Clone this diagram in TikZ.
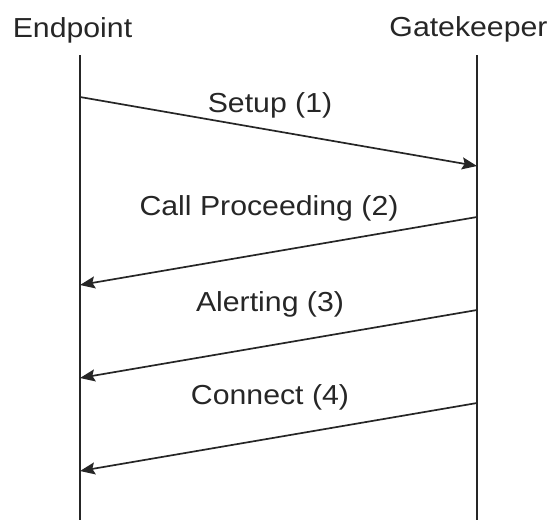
\documentclass[tikz,border=0pt]{standalone}
\usepackage{fontspec}
\setmainfont{Liberation Sans}[FakeStretch=1.1]
\usetikzlibrary{arrows.meta}
\begin{document}
\begin{tikzpicture}[x=1pt,y=-1pt,
  lifeline/.style={line width=1.7pt,draw=black!85},
  msg/.style={line width=1.7pt,draw=black!85,-{Stealth[length=15pt,width=12pt,inset=2.5pt]}},
  actor/.style={anchor=base,inner sep=0pt,text=black!85,font=\fontsize{27.5}{30}\selectfont},
  msglabel/.style={anchor=base,inner sep=0pt,text=black!85,font=\fontsize{27.5}{30}\selectfont}]
  \useasboundingbox (0,0) rectangle (553,520);
  % participants
  \node[actor] (ep) at (72.5,37) {Endpoint};
  \node[actor] (gk) at (468.5,36) {Gatekeeper};
  % lifelines
  \coordinate (epTop) at (80,55);
  \coordinate (epBot) at (80,520);
  \coordinate (gkTop) at (477,55);
  \coordinate (gkBot) at (477,520);
  \draw[lifeline] (epTop) -- (epBot);
  \draw[lifeline] (gkTop) -- (gkBot);
  % message ends on the lifelines
  \coordinate (s1a) at (80,97);   \coordinate (s1b) at (477,166);
  \coordinate (s2a) at (477,217); \coordinate (s2b) at (80,285);
  \coordinate (s3a) at (477,310); \coordinate (s3b) at (80,378);
  \coordinate (s4a) at (477,403); \coordinate (s4b) at (80,471);
  % messages
  \draw[msg] (s1a) -- (s1b);
  \draw[msg] (s2a) -- (s2b);
  \draw[msg] (s3a) -- (s3b);
  \draw[msg] (s4a) -- (s4b);
  % labels
  \node[msglabel] (l1) at (270,112) {Setup (1)};
  \node[msglabel] (l2) at (269,215) {Call Proceeding (2)};
  \node[msglabel] (l3) at (270,311) {Alerting (3)};
  \node[msglabel] (l4) at (270,404) {Connect (4)};
\end{tikzpicture}
\end{document}
